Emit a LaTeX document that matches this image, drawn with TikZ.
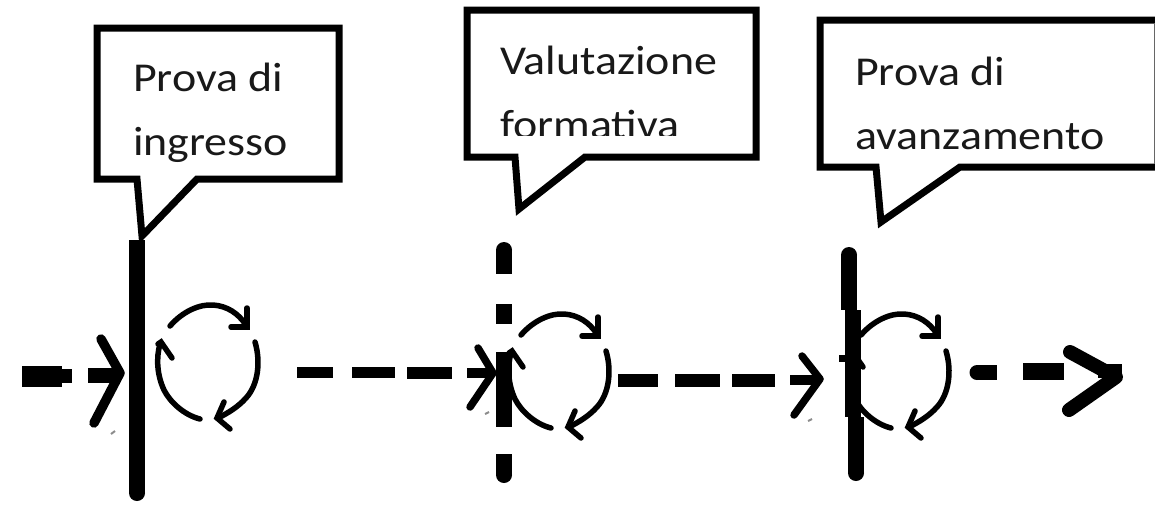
\documentclass[tikz,border=0pt]{standalone}
\usepackage{fontspec}
\usepackage{graphicx}
\setmainfont{Carlito}
\newcommand{\stretched}[1]{\scalebox{1.12}[1]{#1}}
\tikzset{
  bubble/.style={draw=black,line width=7pt,line join=miter,fill=white},
  label/.style={inner sep=0pt,anchor=base west,font=\fontsize{41}{41}\selectfont,text=black!90},
  thinline/.style={line width=5.5pt,line cap=round,line join=miter,black},
  headline/.style={line width=9.5pt,line cap=round,line join=round,black},
  bar/.style={line width=16pt,black},
  speck/.style={line width=2pt,black!45},
  cyclesym/.pic={
    \draw[thinline] (170,326) .. controls (183,311) and (200,304) .. (213,305) .. controls (227,306) and (238,313) .. (246,325);
    \draw[thinline] (247,308) -- (247,327) -- (231,327);
    \draw[thinline] (255,342) .. controls (261,362) and (258,385) .. (246,398) .. controls (238,407) and (228,413) .. (218,418);
    \draw[thinline] (224,402) -- (217,418) -- (230,429);
    \draw[thinline] (200,419) .. controls (184,415) and (170,402) .. (164,390) .. controls (157,375) and (156,358) .. (160,344);
    \draw[thinline] (158,344) -- (161,342) -- (172,358);
  },
}
\begin{document}
\begin{tikzpicture}[x=1pt,y=-1pt]
\useasboundingbox (0,0) rectangle (1155,504);
\fill[white] (0,0) rectangle (1155,504);
\clip (0,0) rectangle (1155,504);
% cycles
\pic at (0,0) {cyclesym};
\pic at (351,9) {cyclesym};
\pic at (691,9) {cyclesym};
% first group
\fill (22,366) rectangle (62,387);
\fill (62,369) rectangle (72,383);
\fill (88,368) rectangle (120,383);
\draw[headline] (101,339) -- (120,373) -- (94,423);
\draw[speck] (111,434) -- (115,431);
\draw[bar] (137,240) -- (137,493);
\fill (137,493) circle (8);
% dashes to second
\fill (297,367) rectangle (333,378);
\fill (352,367) rectangle (395,378);
\fill (407,367) rectangle (452,379);
\fill (467,368) rectangle (490,378);
\draw[headline,line width=7.5pt] (478,348) -- (493,373) -- (470,407);
\draw[speck] (485,414) -- (489,412);
% second bar
\draw[bar] (504,250) -- (504,274);
\fill (504,250) circle (8);
\draw[bar] (504,304) -- (504,324);
\draw[bar] (504,352) -- (504,427);
\draw[bar] (504,454) -- (504,475);
\fill (504,475) circle (8);
% dashes to third
\fill (618,374) rectangle (658,387);
\fill (675,374) rectangle (720,387);
\fill (732,374) rectangle (775,387);
\fill (790,375) rectangle (815,385);
\draw[headline,line width=7.5pt] (802,356) -- (820,379) -- (794,415);
\draw[speck] (808,421) -- (812,419);
% third bar
\draw[bar] (849,255) -- (849,310);
\fill (849,255) circle (8);
\draw[bar] (853,310) -- (853,417);
\draw[bar] (856,417) -- (856,473);
\fill (856,473) circle (8);
\draw[line width=7pt,black] (839,358) -- (850,358);
\draw[line width=7pt,black] (855,365) -- (863,365);
% last arrow
\fill (977,365) rectangle (997,380);
\fill (977,372.5) circle (7.5);
\fill (1023,363) rectangle (1064,380);
\fill (1098,364) rectangle (1122,378);
\draw[line width=14pt,line cap=round,line join=round,black] (1070,352) -- (1116,377) -- (1069,410);
% bubbles
\draw[bubble] (97,28) -- (339,28) -- (339,179) -- (197,179) -- (142,236) -- (137,179) -- (97,179) -- cycle;
\draw[bubble] (467,10) -- (756,10) -- (756,157) -- (585,157) -- (519,209) -- (515,157) -- (467,157) -- cycle;
\draw[bubble] (820,20) -- (1160,20) -- (1160,167) -- (960,167) -- (881,222) -- (876,167) -- (820,167) -- cycle;
\draw[line width=1pt,black!60] (1154.5,23) -- (1154.5,164);
\node[label] (a1) at (133,91) {\stretched{Prova di}};
\node[label] (a2) at (133,155) {\stretched{ingresso}};
\node[label] (b1) at (500,74) {\stretched{Valutazione}};
\node[label] (b2) at (500,138) {\stretched{formativa}};
\fill[white] (480,136) rectangle (720,152);
\node[label] (c1) at (855,85) {\stretched{Prova di}};
\node[label] (c2) at (855,149) {\stretched{avanzamento}};
\end{tikzpicture}
\end{document}
